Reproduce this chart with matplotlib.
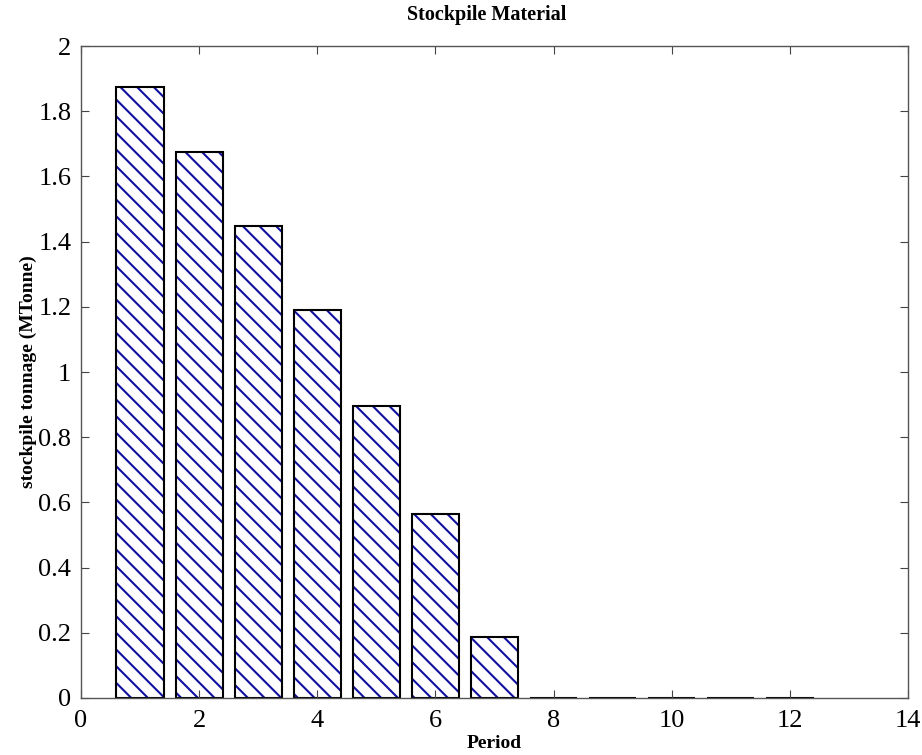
import matplotlib.pyplot as plt
import numpy as np

periods = np.arange(1, 13)
tonnage = [1.874, 1.674, 1.448, 1.190, 0.895, 0.563, 0.186, 0, 0, 0, 0, 0]

plt.rcParams['font.family'] = ['Liberation Serif', 'DejaVu Serif']
plt.rcParams['hatch.linewidth'] = 1.5

fig = plt.figure(figsize=(9.22, 7.55), dpi=100)
ax = fig.add_axes([0.0879, 0.0755, 0.897, 0.8635])

# hatch layer in blue, then black outline on top
ax.bar(periods, tonnage, width=0.8, facecolor='white', edgecolor='#1010a0',
       linewidth=0, hatch='\\\\')
ax.bar(periods, tonnage, width=0.8, facecolor='none', edgecolor='black',
       linewidth=1.5)

ax.set_xlim(0, 14)
ax.set_ylim(0, 2)
ax.set_xticks(np.arange(0, 15, 2))
ax.set_yticks(np.arange(0, 2.01, 0.2))
ax.set_yticklabels(['0', '0.2', '0.4', '0.6', '0.8', '1', '1.2', '1.4', '1.6', '1.8', '2'])
ax.tick_params(direction='in', top=True, right=True, length=6, labelsize=19,
               color='#444444')
ax.tick_params(axis='x', pad=9)
ax.tick_params(axis='y', pad=7)
for s in ax.spines.values():
    s.set_color('#555555')
    s.set_linewidth(1.0)

ax.set_title('Stockpile Material', fontsize=14.5, fontweight='bold', pad=19, x=0.49)
ax.set_xlabel('Period', fontsize=14, fontweight='bold', labelpad=2)
ax.set_ylabel('stockpile tonnage (MTonne)', fontsize=14, fontweight='bold', labelpad=1)

fig.savefig('out.png', dpi=100)
